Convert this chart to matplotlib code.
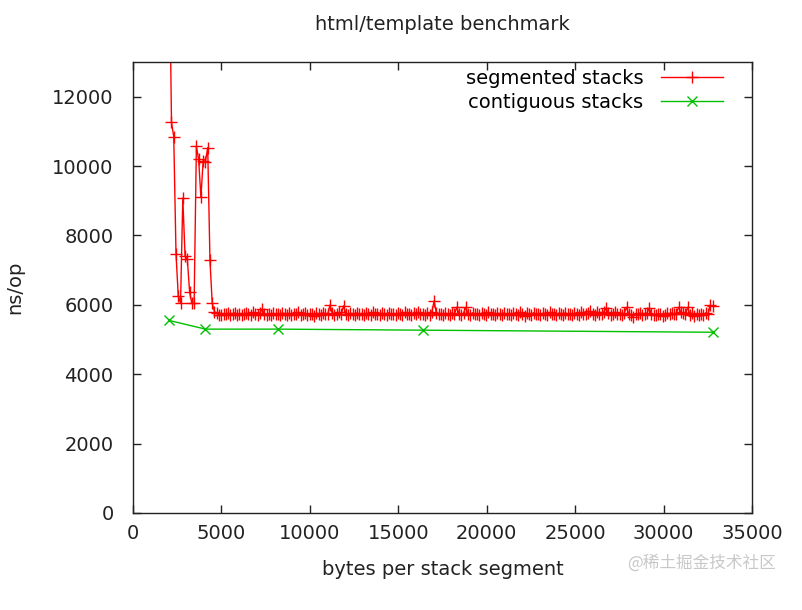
import numpy as np
import matplotlib
matplotlib.use("Agg")
import matplotlib.pyplot as plt

# ---------------------------------------------------------------------------
# Data (ns/op vs bytes per stack segment)
# ---------------------------------------------------------------------------
SEG_START, SEG_STEP, SEG_END = 2048, 128, 32768
seg_x = np.arange(SEG_START, SEG_END + 1, SEG_STEP)

seg_y = [
    16500, 11260, 10850, 7470, 6250, 6050, 9080, 7400, 7320, 6370,
    6040, 6040, 10570, 10190, 9100, 10160, 10130, 10530, 7280, 6040,
    5800,
    5760, 5720, 5700, 5750, 5730, 5760, 5710, 5740, 5770, 5720,
    5750, 5700, 5740, 5760, 5730, 5710, 5780, 5740, 5720, 5760,
    5870, 5750, 5720, 5740, 5700, 5760, 5730, 5750, 5710, 5770,
    5740, 5720, 5760, 5700, 5750, 5730, 5780, 5720, 5740, 5760,
    5710, 5750, 5730, 5690, 5760, 5740, 5720, 5770, 5750, 5730,
    5990, 5760, 5720, 5740, 5780, 5730, 5970, 5750, 5710, 5760,
    5740, 5720, 5770, 5730, 5750, 5700, 5760, 5740, 5720, 5780,
    5730, 5750, 5710, 5760, 5740, 5720, 5770, 5730, 5750, 5700,
    5760, 5740, 5720, 5780, 5730, 5750, 5710, 5760, 5740, 5790,
    5730, 5750, 5720, 5760, 5700, 5780, 6110, 5760, 5730, 5750,
    5710, 5760, 5740, 5720, 5770, 5730, 5930, 5750, 5720, 5760,
    5930, 5740, 5720, 5770, 5730, 5750, 5710, 5760, 5740, 5720,
    5780, 5730, 5750, 5700, 5760, 5740, 5720, 5770, 5730, 5750,
    5710, 5760, 5740, 5720, 5780, 5730, 5690, 5760, 5740, 5720,
    5770, 5730, 5750, 5710, 5760, 5740, 5720, 5780, 5730, 5750,
    5700, 5760, 5740, 5720, 5770, 5730, 5750, 5710, 5760, 5740,
    5720, 5780, 5750, 5730, 5760, 5820, 5740, 5720, 5780, 5730,
    5750, 5800, 5900, 5760, 5720, 5740, 5790, 5730, 5750, 5710,
    5760, 5930, 5740, 5700, 5660, 5750, 5730, 5770, 5720, 5740,
    5760, 5900, 5740, 5720, 5700, 5750, 5730, 5690, 5720, 5760,
    5740, 5770, 5730, 5750, 5930, 5800, 5760, 5740, 5930, 5720,
    5760, 5690, 5750, 5720, 5740, 5700, 5770, 5730, 5990, 5960,
]

contig_x = [2048, 4096, 8192, 16384, 32768]
contig_y = [5550, 5300, 5300, 5270, 5210]

X_TICKS = list(range(0, 35001, 5000))
Y_TICKS = list(range(0, 12001, 2000))

# ---------------------------------------------------------------------------
# Figure
# ---------------------------------------------------------------------------
plt.rcParams["font.family"] = ["DejaVu Sans"]
fig = plt.figure(figsize=(8.02, 6.10), dpi=100)
ax = fig.add_axes([133 / 802, 1 - 513 / 610, 619 / 802, 451 / 610])

ax.plot(seg_x, seg_y, color="#ff0000", linewidth=1.0, marker="+",
        markersize=8, markeredgewidth=1.0, label="segmented stacks")
ax.plot(contig_x, contig_y, color="#00c000", linewidth=1.0, marker="x",
        markersize=7, markeredgewidth=1.0, label="contiguous stacks")

ax.set_xlim(0, 35000)
ax.set_ylim(0, 13000)
ax.set_xticks(X_TICKS)
ax.set_yticks(Y_TICKS)
ax.tick_params(direction="in", length=6, width=1, top=True, right=True,
               labelsize=14, colors="#222222")
ax.tick_params(axis="x", pad=8)
ax.tick_params(axis="y", pad=14)
for s in ax.spines.values():
    s.set_linewidth(1.0)
    s.set_color("#222222")

ax.set_title("html/template benchmark", fontsize=14, pad=23, color="#222222")
ax.set_xlabel("bytes per stack segment", fontsize=14, labelpad=12, color="#222222")
ax.set_ylabel("ns/op", fontsize=14, labelpad=20, color="#222222")

ax.legend(loc="upper right", bbox_to_anchor=(0.953, 0.985), frameon=False,
          markerfirst=False, fontsize=14, handlelength=3.2, handletextpad=0.9,
          borderpad=0, borderaxespad=0, labelspacing=0.28)

fig.text(0.968, 0.077, "@稀土掘金技术社区", ha="right", va="center",
         fontsize=12, color="#c8c8c8",
         family=["Noto Sans CJK SC", "DejaVu Sans"])

fig.savefig("out.png", dpi=100)
